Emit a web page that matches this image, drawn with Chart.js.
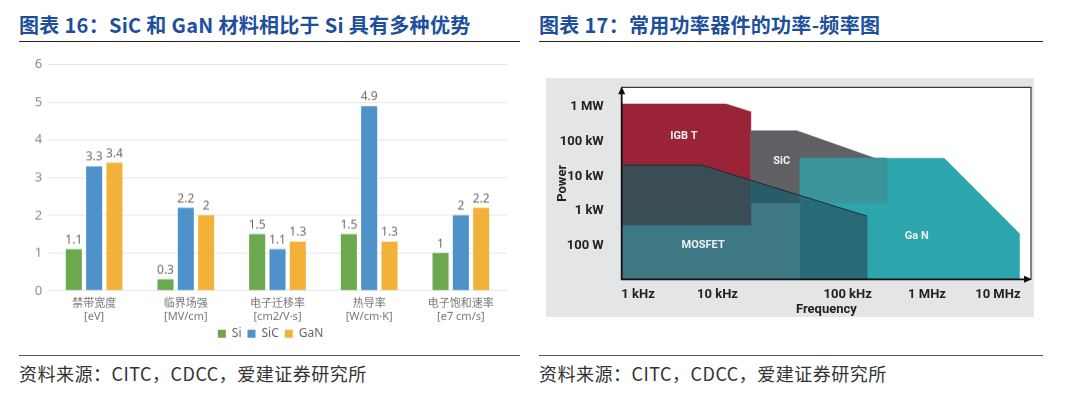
<!DOCTYPE html>
<html>
<head>
<meta charset="utf-8">
<script src="https://cdn.jsdelivr.net/npm/chart.js@4.4.0/dist/chart.umd.min.js"></script>
<style>
    body { margin: 0; background: #fff; width: 1080px; height: 399px; position: relative; overflow: hidden; font-family: "Noto Sans CJK SC", sans-serif; }
    .title { position: absolute; top: 15px; font-size: 20px; font-weight: bold; color: #1d4f9c; line-height: 20px; white-space: nowrap; letter-spacing: 0.3px; }
    .rule { position: absolute; top: 41px; height: 0; border-top: 1.5px solid #222; }
    .rule2 { position: absolute; top: 355px; height: 0; border-top: 1px solid #555; }
    .source { position: absolute; top: 363px; font-size: 18px; color: #333; line-height: 20px; white-space: nowrap; letter-spacing: 0.5px; }
    #box1 { position: absolute; left: 20px; top: 50px; width: 500px; height: 298.7px; }
    #box2 { position: absolute; left: 546px; top: 78px; width: 488px; height: 239px; background: #e4e5e7; }
</style>
</head>
<body>
<div class="title" style="left:19px">图表 16：SiC 和 GaN 材料相比于 Si 具有多种优势</div>
<div class="title" style="left:539px">图表 17：常用功率器件的功率-频率图</div>
<div class="rule" style="left:19px;width:501px"></div>
<div class="rule" style="left:539px;width:504px"></div>

<div id="box1"><canvas id="materialChart"></canvas></div>
<div id="box2"><canvas id="powerChart"></canvas></div>

<div class="rule2" style="left:19px;width:501px"></div>
<div class="rule2" style="left:539px;width:504px"></div>
<div class="source" style="left:19px">资料来源：CITC，CDCC，爱建证券研究所</div>
<div class="source" style="left:539px">资料来源：CITC，CDCC，爱建证券研究所</div>

<script>
// chart 16 data
const categories = ['禁带宽度', '临界场强', '电子迁移率', '热导率', '电子饱和速率'];
const units = ['[eV]', '[MV/cm]', '[cm2/V·s]', '[W/cm·K]', '[e7 cm/s]'];
const siValues = [1.1, 0.3, 1.5, 1.5, 1];
const sicValues = [3.3, 2.2, 1.1, 4.9, 2];
const ganValues = [3.4, 2, 1.3, 1.3, 2.2];

// chart 17 axes
const freqTickPos = [4.0, 23.4, 55.2, 74.6, 91.9];
const freqTickLabels = ['1 kHz', '10 kHz', '100 kHz', '1 MHz', '10 MHz'];
const powerTickValues = [1e2, 1e3, 1e4, 1e5, 1e6];
const powerTickLabels = ['100 W', '1 kW', '10 kW', '100 kW', '1 MW'];
const powerMin = 11;
const powerMax = 3.6e6;

// chart 17 regions: x = position on frequency axis, y = watts
const igbtX = [0, 0, 25.5, 31.5, 31.5, 0];
const igbtY = [400, 1.2e6, 1.2e6, 7.2e5, 400, 400];
const sicX = [31.5, 31.5, 42.8, 61.9, 64.7, 64.7, 31.5];
const sicY = [1740, 2.04e5, 2.04e5, 3.3e4, 3.3e4, 1740, 1740];
const mosfetX = [0, 0, 19.55, 59.9, 59.9, 0];
const mosfetY = [11, 2.1e4, 2.1e4, 720, 11, 11];
const ganX = [43.6, 43.6, 78.8, 97.1, 97.1, 43.6];
const ganY = [11, 3.3e4, 3.3e4, 230, 11, 11];
// overlaps
const igbtMosX = [0, 0, 19.55, 31.5, 31.5, 0];
const igbtMosY = [400, 2.1e4, 2.1e4, 7800, 400, 400];
const sicMosX = [31.5, 31.5, 43.6, 43.6, 31.5];
const sicMosY = [1740, 7800, 2800, 1740, 1740];
const sicGanX = [43.6, 43.6, 64.7, 64.7, 43.6];
const sicGanY = [1740, 3.3e4, 3.3e4, 1740, 1740];
const mosGanX = [43.6, 43.6, 59.9, 59.9, 43.6];
const mosGanY = [11, 2800, 720, 11, 11];

const regionNames = ['IGB T', 'SiC', 'MOSFET', 'Ga N'];
const regionLabelX = [15.2, 39.1, 19.9, 72.1];
const regionLabelY = [1.37e5, 2.75e4, 106, 184];

Chart.defaults.animation = false;
Chart.defaults.devicePixelRatio = 1;

const valueLabels = {
    id: 'valueLabels',
    afterDatasetsDraw(chart) {
        const ctx = chart.ctx;
        ctx.save();
        ctx.font = '12px "Noto Sans", sans-serif';
        ctx.fillStyle = '#6b6b6b';
        ctx.textAlign = 'center';
        ctx.textBaseline = 'bottom';
        chart.data.datasets.forEach(function (ds, i) {
            chart.getDatasetMeta(i).data.forEach(function (bar, j) {
                ctx.fillText(String(ds.data[j]), bar.x, bar.y - 3);
            });
        });
        ctx.restore();
    }
};

new Chart(document.getElementById('materialChart'), {
    type: 'bar',
    data: {
        labels: categories.map((c, i) => [c, units[i]]),
        datasets: [
            { label: 'Si', data: siValues, backgroundColor: '#6ba84f' },
            { label: 'SiC', data: sicValues, backgroundColor: '#4e92c9' },
            { label: 'GaN', data: ganValues, backgroundColor: '#f2b23a' }
        ]
    },
    options: {
        responsive: true,
        maintainAspectRatio: false,
        categoryPercentage: 0.665,
        barPercentage: 0.79,
        layout: { padding: { left: 14.5, top: 14.7, right: 13.3, bottom: 0 } },
        plugins: {
            tooltip: { enabled: false },
            legend: {
                position: 'bottom',
                labels: { boxWidth: 8, boxHeight: 8, padding: 6, color: '#666', font: { size: 12, family: '"Noto Sans", sans-serif' } }
            }
        },
        scales: {
            x: {
                grid: { display: false },
                border: { display: false },
                ticks: { color: '#777', padding: -2, maxRotation: 0, autoSkip: false, font: { size: 11, family: '"Noto Sans", "Noto Sans CJK SC", sans-serif', lineHeight: 1.22 } }
            },
            y: {
                min: 0,
                max: 6,
                afterFit: function (s) { s.width = 13.8; },
                grid: { color: '#e6e6e6', drawTicks: false },
                border: { display: false },
                ticks: { stepSize: 1, padding: 6, color: '#8a8a8a', font: { size: 13, family: '"Noto Sans", sans-serif' } }
            }
        }
    },
    plugins: [valueLabels]
});

const layers = [
    { x: igbtX, y: igbtY, color: '#9b2338' },
    { x: sicX, y: sicY, color: '#606064' },
    { x: mosfetX, y: mosfetY, color: '#3e7884' },
    { x: ganX, y: ganY, color: '#2ca5ad' },
    { x: igbtMosX, y: igbtMosY, color: '#3a4c54' },
    { x: sicMosX, y: sicMosY, color: '#2a5c68' },
    { x: sicGanX, y: sicGanY, color: '#3a9499' },
    { x: mosGanX, y: mosGanY, color: '#286a76' }
];

const datasets = layers.map(function (l, i) {
    return {
        data: l.x.map((x, k) => ({ x: x, y: l.y[k] })),
        showLine: true,
        fill: 'shape',
        backgroundColor: l.color,
        borderColor: l.color,
        borderWidth: 0.5,
        pointRadius: 0,
        tension: 0,
        order: layers.length + 1 - i
    };
});
// dark edge along the top of the MOSFET area
datasets.push({
    data: [1, 2, 3].map(k => ({ x: mosfetX[k], y: mosfetY[k] })),
    showLine: true,
    fill: false,
    borderColor: 'rgba(25,38,44,0.85)',
    borderWidth: 1,
    pointRadius: 0,
    order: 0
});

const diagramFrame = {
    id: 'diagramFrame',
    beforeDatasetsDraw(chart) {
        const a = chart.chartArea;
        chart.ctx.save();
        chart.ctx.fillStyle = '#fff';
        chart.ctx.fillRect(a.left, a.top, a.right - a.left, a.bottom - a.top);
        chart.ctx.restore();
    },
    afterDatasetsDraw(chart) {
        const ctx = chart.ctx;
        const a = chart.chartArea;
        ctx.save();
        ctx.strokeStyle = '#3a3a3a';
        ctx.lineWidth = 1.2;
        ctx.beginPath();
        ctx.moveTo(a.left, a.top);
        ctx.lineTo(a.right, a.top);
        ctx.lineTo(a.right, a.bottom);
        ctx.stroke();

        ctx.strokeStyle = '#111';
        ctx.lineWidth = 1.8;
        ctx.beginPath();
        ctx.moveTo(a.left, a.top + 5);
        ctx.lineTo(a.left, a.bottom);
        ctx.lineTo(a.right - 5, a.bottom);
        ctx.stroke();

        ctx.fillStyle = '#111';
        ctx.beginPath();
        ctx.moveTo(a.left, a.top - 1);
        ctx.lineTo(a.left - 3.5, a.top + 7);
        ctx.lineTo(a.left + 3.5, a.top + 7);
        ctx.closePath();
        ctx.fill();
        ctx.beginPath();
        ctx.moveTo(a.right + 1, a.bottom);
        ctx.lineTo(a.right - 7, a.bottom - 3.5);
        ctx.lineTo(a.right - 7, a.bottom + 3.5);
        ctx.closePath();
        ctx.fill();

        ctx.font = 'bold 11px Roboto, sans-serif';
        ctx.fillStyle = '#eef1f2';
        ctx.textAlign = 'center';
        ctx.textBaseline = 'middle';
        regionNames.forEach(function (name, i) {
            ctx.fillText(name, chart.scales.x.getPixelForValue(regionLabelX[i]), chart.scales.y.getPixelForValue(regionLabelY[i]));
        });
        ctx.restore();
    }
};

const axisFont = { family: 'Roboto, sans-serif', weight: 'bold', size: 13 };

new Chart(document.getElementById('powerChart'), {
    type: 'scatter',
    data: { datasets: datasets },
    options: {
        responsive: true,
        maintainAspectRatio: false,
        layout: { padding: { top: 9.3, right: 3, left: 0, bottom: 0 } },
        plugins: { legend: { display: false }, tooltip: { enabled: false } },
        scales: {
            x: {
                type: 'linear',
                min: 0,
                max: 100,
                grid: { display: false },
                border: { display: false },
                afterBuildTicks: function (s) { s.ticks = freqTickPos.map(v => ({ value: v })); },
                afterFit: function (s) { s.height = 37.7; s.paddingLeft = 0; s.paddingRight = 0; },
                ticks: { autoSkip: false, maxRotation: 0, padding: 0, color: '#222', font: axisFont, callback: (v, i) => freqTickLabels[i] },
                title: { display: true, text: 'Frequency', color: '#222', font: axisFont, padding: { top: 0, bottom: -1 } }
            },
            y: {
                type: 'logarithmic',
                min: powerMin,
                max: powerMax,
                grid: { display: false },
                border: { display: false },
                afterBuildTicks: function (s) { s.ticks = powerTickValues.map(v => ({ value: v })); },
                afterFit: function (s) { s.width = 75.7; s.paddingTop = 0; s.paddingBottom = 0; },
                ticks: { autoSkip: false, padding: 10, color: '#222', font: axisFont, callback: (v, i) => powerTickLabels[i] },
                title: { display: true, text: 'Power', color: '#222', font: axisFont, padding: { top: 9, bottom: 0 } }
            }
        }
    },
    plugins: [diagramFrame]
});
</script>
</body>
</html>
